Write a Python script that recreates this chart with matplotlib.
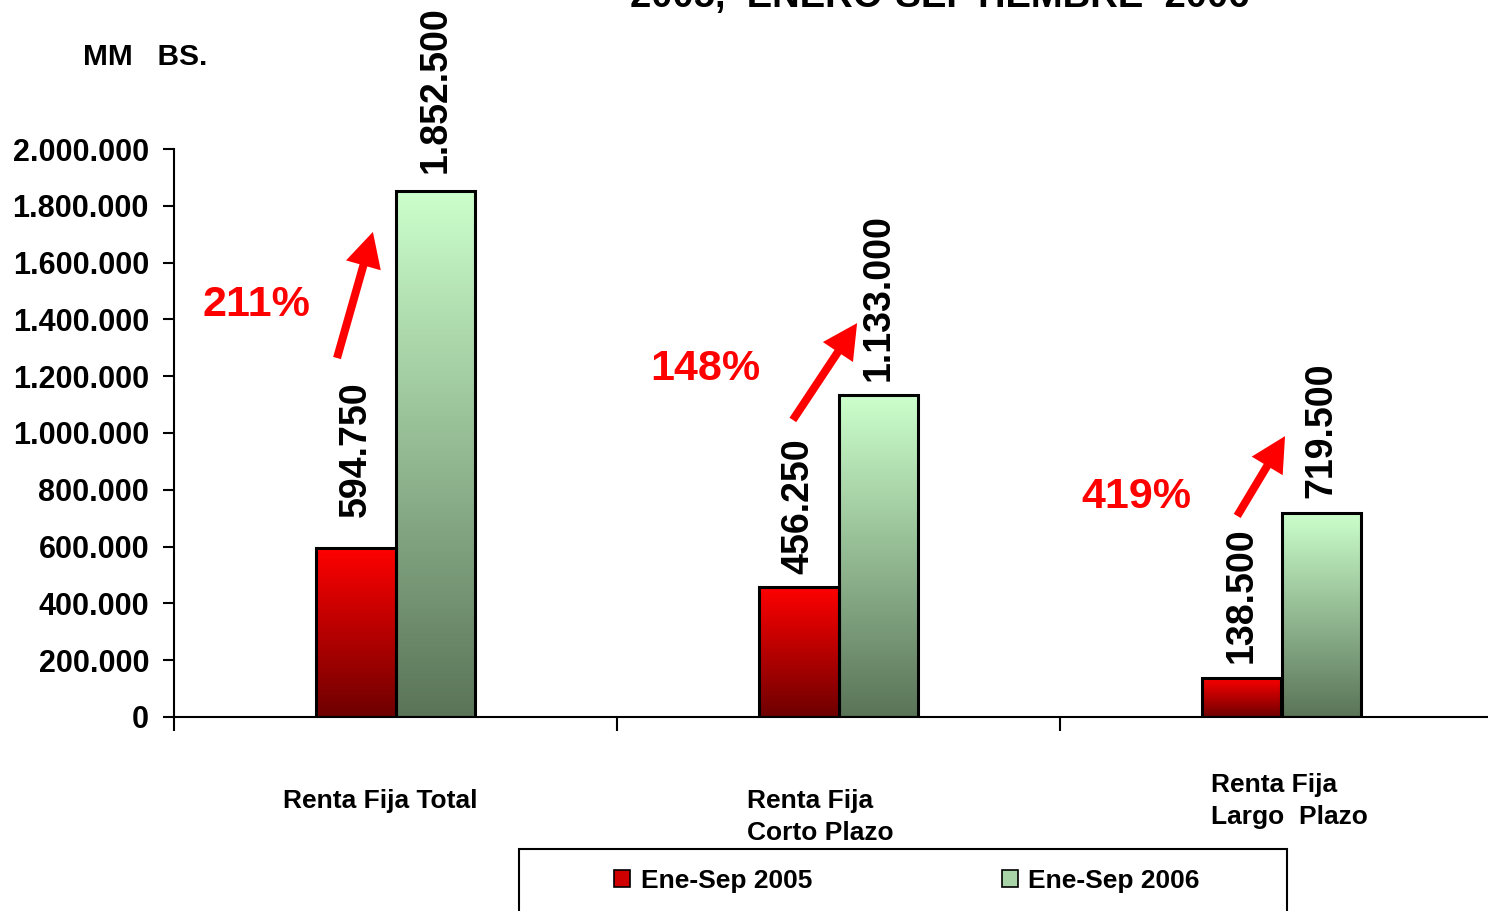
import numpy as np
import matplotlib
matplotlib.use('Agg')
import matplotlib.pyplot as plt
from matplotlib.ticker import FuncFormatter
from matplotlib.patches import Patch, Rectangle
from matplotlib.colors import LinearSegmentedColormap

# datos
categorias = ['Renta Fija Total', 'Renta Fija\nCorto Plazo', 'Renta Fija\nLargo  Plazo']
ene_sep_2005 = [594750, 456250, 138500]
ene_sep_2006 = [1852500, 1133000, 719500]
variacion = ['211%', '148%', '419%']
etiquetas_2005 = ['594.750', '456.250', '138.500']
etiquetas_2006 = ['1.852.500', '1.133.000', '719.500']
series = ['Ene-Sep 2005', 'Ene-Sep 2006']

plt.rcParams.update({
    'font.family': ['Liberation Sans', 'DejaVu Sans'],
    'font.weight': 'bold',
})

fig = plt.figure(figsize=(14.88, 9.11), dpi=100)
ax = fig.add_axes([174 / 1488, 1 - 717 / 911, 1329 / 1488, 568 / 911])

x = np.arange(len(categorias))
w = 0.18

cmap_rojo = LinearSegmentedColormap.from_list('rojo', ['#6e0000', '#ff0000'])
cmap_verde = LinearSegmentedColormap.from_list('verde', ['#5a7458', '#ccffcc'])

b1 = ax.bar(x - w / 2, ene_sep_2005, w, facecolor='none', edgecolor='black', linewidth=2.2, zorder=3)
b2 = ax.bar(x + w / 2, ene_sep_2006, w, facecolor='none', edgecolor='black', linewidth=2.2, zorder=3)

# degradado vertical dentro de cada barra
grad = np.linspace(0, 1, 256).reshape(-1, 1)
for barras, cmap in [(b1, cmap_rojo), (b2, cmap_verde)]:
    for b in barras:
        x0, y0 = b.get_x(), b.get_y()
        im = ax.imshow(grad, cmap=cmap, origin='lower', aspect='auto',
                       extent=[x0, x0 + b.get_width(), y0, y0 + b.get_height()], zorder=2)
        im.set_clip_path(b)

ax.set_xlim(-0.5, 2.5)
ax.set_ylim(0, 2000000)
ax.set_yticks(np.arange(0, 2000001, 200000))
ax.yaxis.set_major_formatter(FuncFormatter(lambda v, p: f'{int(v):,}'.replace(',', '.')))
ax.set_xticks([-0.5, 0.5, 1.5, 2.5])
ax.set_xticklabels([])
ax.tick_params(axis='y', length=8, width=1.5, labelsize=22, pad=10)
ax.tick_params(axis='x', length=10, width=1.5)
for lab in ax.get_yticklabels():
    lab.set_fontweight('bold')
ax.spines['top'].set_visible(False)
ax.spines['right'].set_visible(False)
ax.spines['left'].set_linewidth(1.5)
ax.spines['bottom'].set_linewidth(1.5)

# etiquetas de valor (verticales)
desfase_2005 = [31, 13, 15]
desfase_2006 = [18, 14, 15]
for b, t, d in zip(b1, etiquetas_2005, desfase_2005):
    ax.annotate(t, (b.get_x() + b.get_width() / 2, b.get_height()), xytext=(0, d),
                textcoords='offset pixels', rotation=90, ha='center', va='bottom',
                fontsize=27, fontweight='bold')
for b, t, d in zip(b2, etiquetas_2006, desfase_2006):
    ax.annotate(t, (b.get_x() + b.get_width() / 2, b.get_height()), xytext=(0, d),
                textcoords='offset pixels', rotation=90, ha='center', va='bottom',
                fontsize=27, fontweight='bold')

# flechas y porcentajes
flechas = [((-0.132, 1264000), (-0.051, 1708000)),
           ((0.897, 1046000), (1.042, 1387000)),
           ((1.900, 708000), (2.008, 989000))]
pos_pct = [(-0.315, 1451000), (0.699, 1225000), (1.672, 775000)]
for (ini, fin), (px, py), t in zip(flechas, pos_pct, variacion):
    ax.annotate('', xy=fin, xytext=ini,
                arrowprops=dict(arrowstyle='simple,head_length=1.25,head_width=1.3,tail_width=0.29',
                                mutation_scale=20, facecolor='#ff0000', edgecolor='none',
                                shrinkA=0, shrinkB=0))
    ax.text(px, py, t, color='#ff0000', fontsize=31, fontweight='bold', ha='center', va='center')

# etiquetas de categoria
pos_cat = [(-0.254, -0.148), (0.793, -0.176), (1.841, -0.148)]
for (cx, cy), t in zip(pos_cat, categorias):
    ax.text(cx, cy, t, transform=ax.get_xaxis_transform(), ha='left', va='center',
            fontsize=19, fontweight='bold', linespacing=1.38)

# textos de figura
fig.text(83 / 1488, 1 - 57 / 911, 'MM   BS.', fontsize=21.5, fontweight='bold', ha='left', va='center')
fig.text(940 / 1488, 1 - 7 / 911, '2005,  ENERO-SEPTIEMBRE  2006', fontsize=27.5,
         fontweight='bold', ha='center', va='baseline')

# leyenda
handles = [Patch(facecolor='#d00000', edgecolor='black', linewidth=1.2),
           Patch(facecolor='#a8d4a8', edgecolor='black', linewidth=1.2)]
fig.legend(handles, series, loc='center', bbox_to_anchor=(907 / 1488, 1 - 881 / 911),
           ncol=2, frameon=False, handlelength=0.6, handleheight=0.6,
           handletextpad=0.4, columnspacing=7.2, prop={'weight': 'bold', 'size': 19})
fig.patches.append(Rectangle((519 / 1488, -0.02), 768 / 1488, 0.02 + 62 / 911,
                             transform=fig.transFigure, fill=False, edgecolor='black',
                             linewidth=1.5))

fig.savefig('out.png', dpi=100)
